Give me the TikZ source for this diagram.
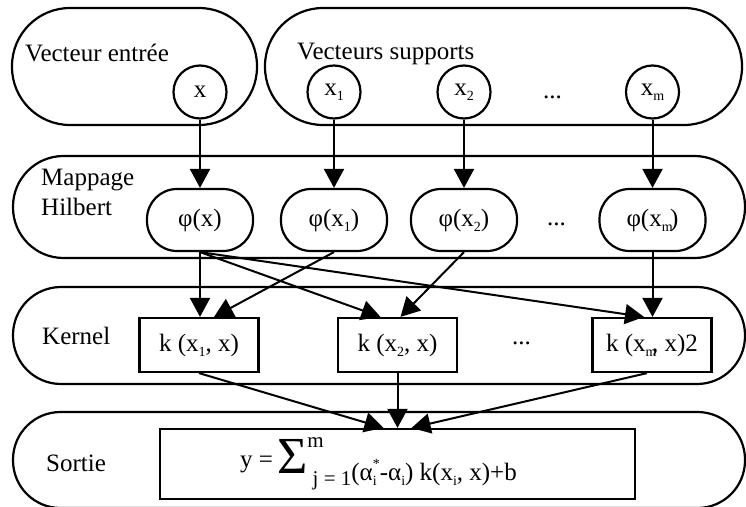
\documentclass[tikz,border=0pt]{standalone}
\usepackage{fontspec}
\setmainfont{Liberation Serif}
\usetikzlibrary{arrows.meta,calc}
\newcommand\lsub[1]{\raisebox{-0.2em}{\fontsize{14}{14}\selectfont #1}}
\newcommand\lsup[1]{\raisebox{0.45em}{\fontsize{14}{14}\selectfont #1}}
\begin{document}
\begin{tikzpicture}[x=1pt,y=-1pt,
  every node/.style={font=\fontsize{25}{30}\selectfont, inner sep=0pt},
  capsule/.style={draw, rectangle, line width=2.2pt},
  circ/.style={draw, circle, line width=2.2pt, minimum size=53pt},
  phibox/.style={draw, rectangle, rounded corners=30pt, line width=2.2pt, minimum width=106pt, minimum height=62pt},
  kbox/.style={draw, rectangle, line width=2.2pt, minimum width=119pt, minimum height=54pt},
  arr/.style={-{Triangle[length=19pt,width=20pt]}, line width=2pt},
  lbl/.style={anchor=base west}]
\useasboundingbox (0,0) rectangle (746,506);
\clip (0,0) rectangle (746,506);

% capsules
\node[capsule, rounded corners=58pt, minimum width=245pt, minimum height=117pt] (entree) at (134.5,66.5) {};
\node[capsule, rounded corners=58pt, minimum width=477pt, minimum height=117pt] (supports) at (503.5,66.5) {};
\node[capsule, rounded corners=50.5pt, minimum width=732pt, minimum height=102pt] (mappage) at (379,207) {};
\node[capsule, rounded corners=48pt, minimum width=732pt, minimum height=97pt] (kernel) at (379,335.5) {};
\node[capsule, rounded corners=47.5pt, minimum width=732pt, minimum height=96pt] (sortie) at (379,460) {};

% layer labels
\node[lbl] (tentree) at (25,61) {Vecteur entrée};
\node[lbl] (tsupports) at (297,59) {Vecteurs supports};
\node[lbl] (tmappage) at (41,185) {Mappage};
\node[lbl] (thilbert) at (41,215) {Hilbert};
\node[lbl] (tkernel) at (42,344) {Kernel};
\node[lbl] (tsortie) at (46,471) {Sortie};

% input / support vectors
\node[circ] (cx) at (200,92) {x};
\node[circ] (cx1) at (334,92) {x\lsub{1}};
\node[circ] (cx2) at (464,92) {x\lsub{2}};
\node[lbl] (dots1) at (543,98) {...};
\node[circ] (cxm) at (652.5,92) {x\lsub{m}};

% Hilbert mapping
\node[phibox] (phix) at (200,220) {φ(x)};
\node[phibox] (phix1) at (334,220) {φ(x\lsub{1})};
\node[phibox] (phix2) at (464,220) {φ(x\lsub{2})};
\node[lbl] (dots2) at (547,225) {...};
\node[phibox] (phixm) at (652.5,220) {φ(x\lsub{m}\kern-0.1em)};

% kernel
\node[kbox] (k1) at (199,345) {k (x\lsub{1}, x)};
\node[kbox] (k2) at (397.5,345) {k (x\lsub{2}, x)};
\node[lbl] (dots3) at (512,344) {...};
\node[kbox] (km) at (652,345) {k (x\lsub{m}\kern-0.18em, x)2};

% output
\node[draw, rectangle, line width=2.2pt, minimum width=475pt, minimum height=70pt] (sum) at (397.5,464) {};
\node[anchor=base west] (formula) at (240,467) {y =\,%
  \raisebox{-6pt}{\fontsize{52}{52}\selectfont Σ}%
  \rlap{\raisebox{20pt}{\fontsize{21}{21}\selectfont m}}%
  \raisebox{-18pt}{\fontsize{21}{21}\selectfont \ j = 1}%
  \raisebox{-13pt}{(α\rlap{\lsub{i}}\lsup{*}-α\lsub{i}) k(x\lsub{i}, x)+b}};

% connectors
\draw[arr] (cx) -- (phix);
\draw[arr] (cx1) -- (phix1);
\draw[arr] (cx2) -- (phix2);
\draw[arr] (cxm) -- (phixm);

\draw[arr] (phix.south) -- (phix.south |- k1.north);
\draw[arr] (phix1.south) -- ($(k1.north)+(15,0)$);
\draw[arr] (phix.south) -- ($(k2.north)+(-17,0)$);
\draw[arr] (phix2.south) -- ($(k2.north)+(3,0)$);
\draw[arr] (phix.south) -- ($(km.north)+(-8,0)$);
\draw[arr] (phixm.south) -- (phixm.south |- km.north);

\draw[arr] (k1.south) -- ($(sum.north)+(-14,0)$);
\draw[arr] (k2.south) -- (sum.north);
\draw[arr] ($(km.south)+(-5,0)$) -- ($(sum.north)+(14,0)$);
\end{tikzpicture}
\end{document}
